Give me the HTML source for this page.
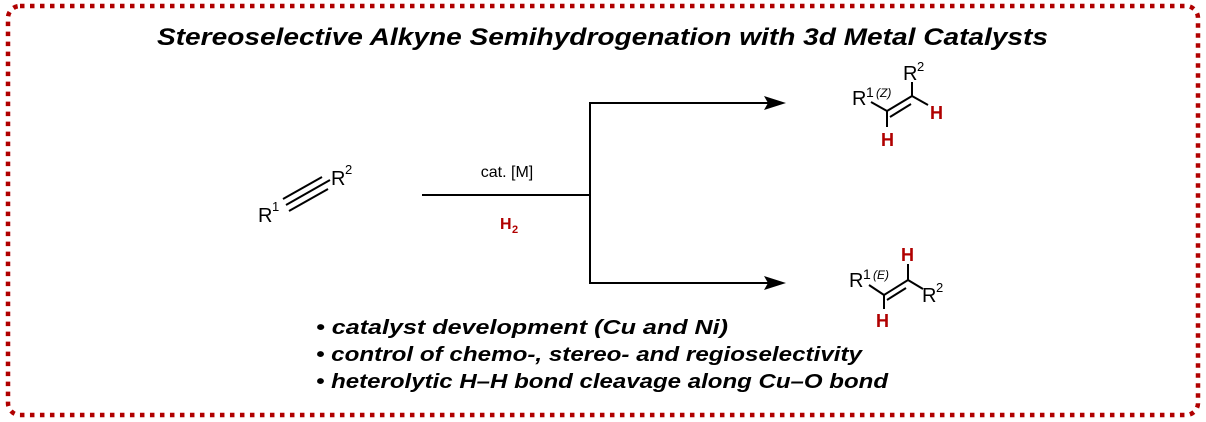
<!DOCTYPE html>
<html><head><meta charset="utf-8"><style>
html,body{margin:0;padding:0;background:#fff;}
svg{display:block;}
text{font-family:"Liberation Sans",Arial,sans-serif;}
</style></head><body>
<svg width="1206" height="422" viewBox="0 0 1206 422" xmlns="http://www.w3.org/2000/svg">
<rect x="8" y="6" width="1190" height="409" rx="12" ry="12" fill="none" stroke="#b00000" stroke-width="4.5" stroke-dasharray="4.5 5.5"/>
<text x="157" y="45" font-size="24" font-weight="bold" font-style="italic" textLength="891" lengthAdjust="spacingAndGlyphs">Stereoselective Alkyne Semihydrogenation with 3d Metal Catalysts</text>
<!-- alkyne -->
<g stroke="#000" stroke-width="2" fill="none">
<line x1="286" y1="205" x2="330" y2="180"/>
<line x1="283" y1="199" x2="322" y2="177"/>
<line x1="289" y1="211" x2="328" y2="189"/>
</g>
<text x="258" y="222" font-size="20">R</text><text x="272" y="211" font-size="13">1</text>
<text x="331" y="185" font-size="20">R</text><text x="345" y="174" font-size="13">2</text>
<!-- arrows -->
<g stroke="#000" stroke-width="2" fill="none">
<line x1="422" y1="195" x2="590" y2="195"/>
<line x1="590" y1="102" x2="590" y2="284"/>
<line x1="590" y1="103" x2="770" y2="103"/>
<line x1="590" y1="283" x2="770" y2="283"/>
</g>
<polygon points="786,103 764,96 768,103 764,110" fill="#000"/>
<polygon points="786,283 764,276 768,283 764,290" fill="#000"/>
<text x="507" y="177" font-size="16" text-anchor="middle">cat. [M]</text>
<text x="500" y="229" font-size="16" font-weight="bold" fill="#b00000">H</text><text x="512" y="233" font-size="11" font-weight="bold" fill="#b00000">2</text>
<!-- Z product -->
<g stroke="#000" stroke-width="2" fill="none">
<line x1="871" y1="102" x2="887" y2="111"/>
<line x1="887" y1="111" x2="912" y2="96"/>
<line x1="890" y1="117" x2="911" y2="104"/>
<line x1="912" y1="96" x2="912" y2="82"/>
<line x1="912" y1="96" x2="928" y2="105"/>
<line x1="887" y1="111" x2="887" y2="127"/>
</g>
<text x="852" y="105" font-size="20">R</text><text x="866" y="97" font-size="14">1</text>
<text x="876" y="97" font-size="12" font-style="italic">(Z)</text>
<text x="903" y="80" font-size="20">R</text><text x="917" y="71" font-size="13">2</text>
<text x="930" y="119" font-size="18" font-weight="bold" fill="#b00000">H</text>
<text x="881" y="146" font-size="18" font-weight="bold" fill="#b00000">H</text>
<!-- E product -->
<g stroke="#000" stroke-width="2" fill="none">
<line x1="869" y1="285" x2="884" y2="295"/>
<line x1="884" y1="295" x2="908" y2="280"/>
<line x1="887" y1="300" x2="906" y2="288"/>
<line x1="908" y1="280" x2="908" y2="264"/>
<line x1="908" y1="280" x2="923" y2="289"/>
<line x1="884" y1="295" x2="884" y2="309"/>
</g>
<text x="849" y="287" font-size="20">R</text><text x="863" y="279" font-size="14">1</text>
<text x="873" y="279" font-size="12" font-style="italic">(E)</text>
<text x="901" y="261" font-size="18" font-weight="bold" fill="#b00000">H</text>
<text x="922" y="302" font-size="20">R</text><text x="936" y="292" font-size="13">2</text>
<text x="876" y="327" font-size="18" font-weight="bold" fill="#b00000">H</text>
<!-- bullets -->
<g font-size="20" font-weight="bold" font-style="italic">
<text x="316" y="334" textLength="412" lengthAdjust="spacingAndGlyphs">• catalyst development (Cu and Ni)</text>
<text x="316" y="361" textLength="546" lengthAdjust="spacingAndGlyphs">• control of chemo-, stereo- and regioselectivity</text>
<text x="316" y="388" textLength="572" lengthAdjust="spacingAndGlyphs">• heterolytic H–H bond cleavage along Cu–O bond</text>
</g>
</svg>
</body></html>
